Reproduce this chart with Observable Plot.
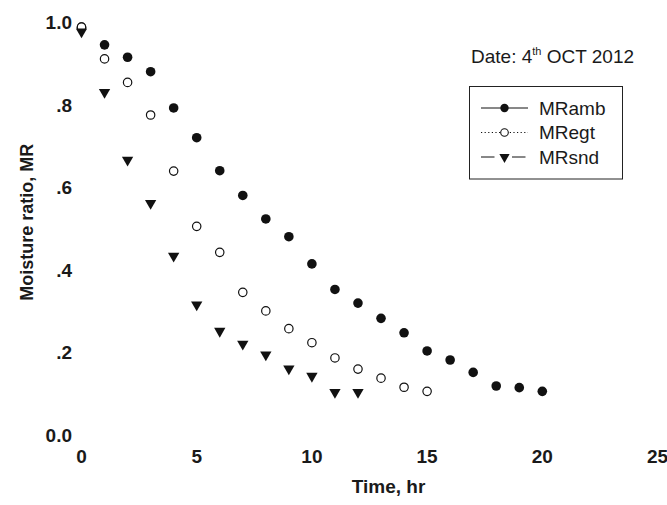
<!DOCTYPE html>
<html>
<head>
<meta charset="utf-8">
<script src="https://cdn.jsdelivr.net/npm/d3@7"></script>
<script src="https://cdn.jsdelivr.net/npm/@observablehq/plot@0.6"></script>
<style>
  html, body { margin: 0; padding: 0; background: #fff; }
  #chart { width: 667px; height: 505px; }
</style>
</head>
<body>
<div id="chart"></div>
<script>
// ---- data ----
const seriesNames = ["MRamb", "MRegt", "MRsnd"];

const timeAmb = [0,1,2,3,4,5,6,7,8,9,10,11,12,13,14,15,16,17,18,19,20];
const mrAmb   = [0.990,0.947,0.917,0.882,0.794,0.722,0.642,0.582,0.525,0.482,0.416,0.354,0.321,0.284,0.249,0.205,0.183,0.153,0.120,0.116,0.107];

const timeEgt = [0,1,2,3,4,5,6,7,8,9,10,11,12,13,14,15];
const mrEgt   = [0.990,0.913,0.856,0.777,0.641,0.507,0.444,0.347,0.302,0.259,0.225,0.188,0.161,0.139,0.117,0.107];

const timeSnd = [0,1,2,3,4,5,6,7,8,9,10,11,12];
const mrSnd   = [0.979,0.832,0.668,0.563,0.435,0.317,0.253,0.222,0.196,0.162,0.144,0.105,0.105];

const xTicks = [0, 5, 10, 15, 20, 25];
const yTicks = [0, 0.2, 0.4, 0.6, 0.8, 1.0];
const yTickLabels = ["0.0", ".2", ".4", ".6", ".8", "1.0"];

const xLabel = "Time, hr";
const yLabel = "Moisture ratio, MR";
const dateText = ["Date: 4", "th", " OCT 2012"];

// ---- build tables ----
const amb = timeAmb.map((t, i) => ({t, mr: mrAmb[i]}));
const egt = timeEgt.map((t, i) => ({t, mr: mrEgt[i]}));
const snd = timeSnd.map((t, i) => ({t, mr: mrSnd[i]}));

const FONT = "'Liberation Sans', Arial, sans-serif";
const INK = "#1a1a1a";

const plot = Plot.plot({
  width: 667,
  height: 505,
  marginLeft: 81,
  marginRight: 10,
  marginTop: 22.5,
  marginBottom: 70,
  style: {fontFamily: FONT, background: "#fff", overflow: "visible"},
  x: {domain: [0, 25]},
  y: {domain: [0, 1]},
  marks: [
    Plot.axisX({ticks: xTicks, tickSize: 0, tickPadding: 14, label: null,
      fontSize: 19, fontWeight: "bold", fill: INK}),
    Plot.axisY({ticks: yTicks, tickSize: 0, tickPadding: 9.5, label: null,
      tickFormat: d => yTickLabels[yTicks.findIndex(v => Math.abs(v - d) < 1e-9)],
      fontSize: 19, fontWeight: "bold", fill: INK}),
    Plot.text([xLabel], {frameAnchor: "bottom", textAnchor: "middle", dx: 19, dy: 57,
      fontSize: 19, fontWeight: "bold", fill: INK}),
    Plot.text([yLabel], {frameAnchor: "left", textAnchor: "middle", rotate: -90, dx: -54.5, dy: -7,
      fontSize: 18, fontWeight: "bold", fill: INK}),
    Plot.dot(amb, {x: "t", y: "mr", r: 4.8, symbol: "circle", fill: "#111", stroke: "none"}),
    Plot.dot(egt, {x: "t", y: "mr", r: 4.2, symbol: "circle", fill: "#fff", stroke: "#111", strokeWidth: 1.2}),
    Plot.dot(snd, {x: "t", y: "mr", r: 4.2, symbol: "triangle", rotate: 180, fill: "#111", stroke: "none"})
  ]
});

document.getElementById("chart").appendChild(plot);

// ---- annotations: date and legend ----
const svg = d3.select(plot);

const dt = svg.append("text")
  .attr("x", 471).attr("y", 63).attr("text-anchor", "start")
  .attr("font-family", FONT).attr("font-size", 19).attr("fill", INK);
dt.append("tspan").text(dateText[0]);
dt.append("tspan").attr("font-size", 11).attr("dy", -8).text(dateText[1]);
dt.append("tspan").attr("dy", 8).text(dateText[2]);

const lg = svg.append("g");
lg.append("rect").attr("x", 469.5).attr("y", 86.5).attr("width", 153).attr("height", 92.5)
  .attr("fill", "none").attr("stroke", "#222").attr("stroke-width", 1);

const legendStyles = [
  {dash: null, sym: d3.symbolCircle, fill: "#111", stroke: "none", size: Math.PI * 4.2 * 4.2, rot: 0},
  {dash: "1.2,2.4", sym: d3.symbolCircle, fill: "#fff", stroke: "#111", size: Math.PI * 3.8 * 3.8, rot: 0},
  {dash: "13.5,17.5", sym: d3.symbolTriangle, fill: "#111", stroke: "none", size: Math.PI * 3.8 * 3.8, rot: 180}
];
const rowY = [108, 132.5, 157];

seriesNames.forEach((name, i) => {
  const st = legendStyles[i];
  const y = rowY[i];
  const ln = lg.append("line").attr("x1", 481).attr("x2", 528).attr("y1", y).attr("y2", y)
    .attr("stroke", "#111").attr("stroke-width", 1);
  if (st.dash) ln.attr("stroke-dasharray", st.dash);
  lg.append("path").attr("d", d3.symbol(st.sym, st.size)())
    .attr("transform", `translate(504.5,${y}) rotate(${st.rot})`)
    .attr("fill", st.fill).attr("stroke", st.stroke).attr("stroke-width", 1.1);
  lg.append("text").attr("x", 539).attr("y", y).attr("dy", "0.36em").attr("text-anchor", "start")
    .attr("font-family", FONT).attr("font-size", 19).attr("fill", INK).text(name);
});
</script>
</body>
</html>
